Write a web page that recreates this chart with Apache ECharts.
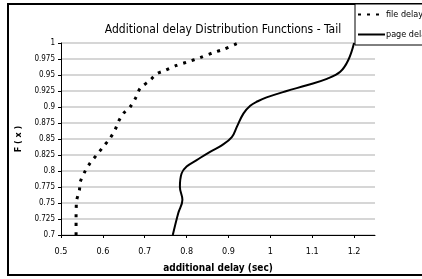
<!DOCTYPE html>
<html>
<head>
<meta charset="utf-8">
<script src="https://cdn.jsdelivr.net/npm/echarts@6/dist/echarts.min.js"></script>
<style>
  html, body { margin: 0; padding: 0; background: #fff; }
  #chart { width: 422px; height: 279px; }
</style>
</head>
<body>
<div id="chart"></div>
<script>
// file delay (dotted)
var fileDelayX = [0.536, 0.536, 0.537, 0.544, 0.546, 0.557, 0.569, 0.585, 0.601, 0.617, 0.629, 0.637, 0.649, 0.665, 0.679, 0.689, 0.713, 0.729, 0.748, 0.776, 0.800, 0.832, 0.864, 0.888, 0.920];
var fileDelayF = [0.700, 0.723, 0.752, 0.770, 0.783, 0.799, 0.812, 0.825, 0.838, 0.851, 0.864, 0.877, 0.890, 0.900, 0.915, 0.929, 0.942, 0.952, 0.957, 0.965, 0.970, 0.977, 0.985, 0.990, 0.999];

// page delay (solid)
var pageDelayX = [0.767, 0.780, 0.790, 0.784, 0.788, 0.800, 0.824, 0.856, 0.884, 0.908, 0.920, 0.936, 0.952, 0.970, 0.991, 1.039, 1.087, 1.135, 1.167, 1.186, 1.200];
var pageDelayF = [0.700, 0.734, 0.755, 0.775, 0.796, 0.807, 0.817, 0.830, 0.840, 0.853, 0.869, 0.890, 0.902, 0.909, 0.915, 0.925, 0.934, 0.944, 0.955, 0.973, 1.000];

var seriesNames = ['file delay', 'page delay'];

var FONT = "'Liberation Sans Narrow', 'DejaVu Sans Condensed', sans-serif";

function pairs(xs, ys) {
    var out = [];
    for (var i = 0; i < xs.length; i++) out.push([xs[i], ys[i]]);
    return out;
}

var chart = echarts.init(document.getElementById('chart'));

var option = {
    animation: false,
    backgroundColor: '#fff',
    textStyle: { fontFamily: FONT },
    graphic: [{
        type: 'rect',
        z: -10,
        shape: { x: 8, y: 4, width: 430, height: 271 },
        style: { fill: '#fff', stroke: '#000', lineWidth: 2 }
    }],
    title: {
        text: 'Additional delay Distribution Functions - Tail',
        left: 218,
        textAlign: 'center',
        top: 19,
        textStyle: { fontFamily: FONT, fontSize: 12, fontWeight: 'normal', color: '#000' }
    },
    legend: {
        orient: 'vertical',
        left: 355,
        top: 4,
        padding: [6, 40, 6, 2],
        itemGap: 11,
        itemWidth: 27,
        itemHeight: 6,
        backgroundColor: '#fff',
        borderColor: '#000',
        borderWidth: 1,
        itemStyle: { color: 'transparent', borderWidth: 0, opacity: 0 },
        textStyle: { fontFamily: FONT, fontSize: 9, color: '#000', padding: [0, 0, 0, -4] },
        data: seriesNames
    },
    grid: { left: 61, right: 47, top: 43, bottom: 44 },
    xAxis: {
        type: 'value',
        min: 0.5,
        max: 1.25,
        interval: 0.1,
        name: 'additional delay (sec)',
        nameLocation: 'middle',
        nameGap: 28,
        nameTextStyle: { fontFamily: FONT, fontSize: 10, fontWeight: 'bold', color: '#000' },
        axisLine: { lineStyle: { color: '#000', width: 1 } },
        axisTick: { show: true, length: 3, lineStyle: { color: '#000' } },
        axisLabel: {
            fontFamily: FONT, fontSize: 9, color: '#000', margin: 12,
            showMaxLabel: false,
            formatter: function (v) { return String(+v.toFixed(2)); }
        },
        splitLine: { show: false }
    },
    yAxis: {
        type: 'value',
        min: 0.7,
        max: 1,
        interval: 0.025,
        name: 'F ( x )',
        nameLocation: 'middle',
        nameGap: 35,
        nameRotate: 90,
        nameTextStyle: { fontFamily: FONT, fontSize: 9, fontWeight: 'bold', color: '#000' },
        axisLine: { show: true, lineStyle: { color: '#000', width: 1 } },
        axisTick: { show: true, length: 3, lineStyle: { color: '#000' } },
        axisLabel: {
            fontFamily: FONT, fontSize: 8, color: '#000', margin: 6,
            formatter: function (v) { return String(+v.toFixed(3)); }
        },
        splitLine: { show: true, lineStyle: { color: '#c8c8c8', width: 1.5 } }
    },
    series: [{
        name: seriesNames[0],
        type: 'line',
        showSymbol: false,
        symbol: 'none',
        smooth: 0.3,
        data: pairs(fileDelayX, fileDelayF),
        lineStyle: { color: '#000', width: 3, type: [3, 6], cap: 'butt' },
        itemStyle: { color: '#000' }
    }, {
        name: seriesNames[1],
        type: 'line',
        showSymbol: false,
        symbol: 'none',
        smooth: 0.4,
        data: pairs(pageDelayX, pageDelayF),
        lineStyle: { color: '#000', width: 2 },
        itemStyle: { color: '#000' }
    }]
};

chart.setOption(option);
</script>
</body>
</html>
